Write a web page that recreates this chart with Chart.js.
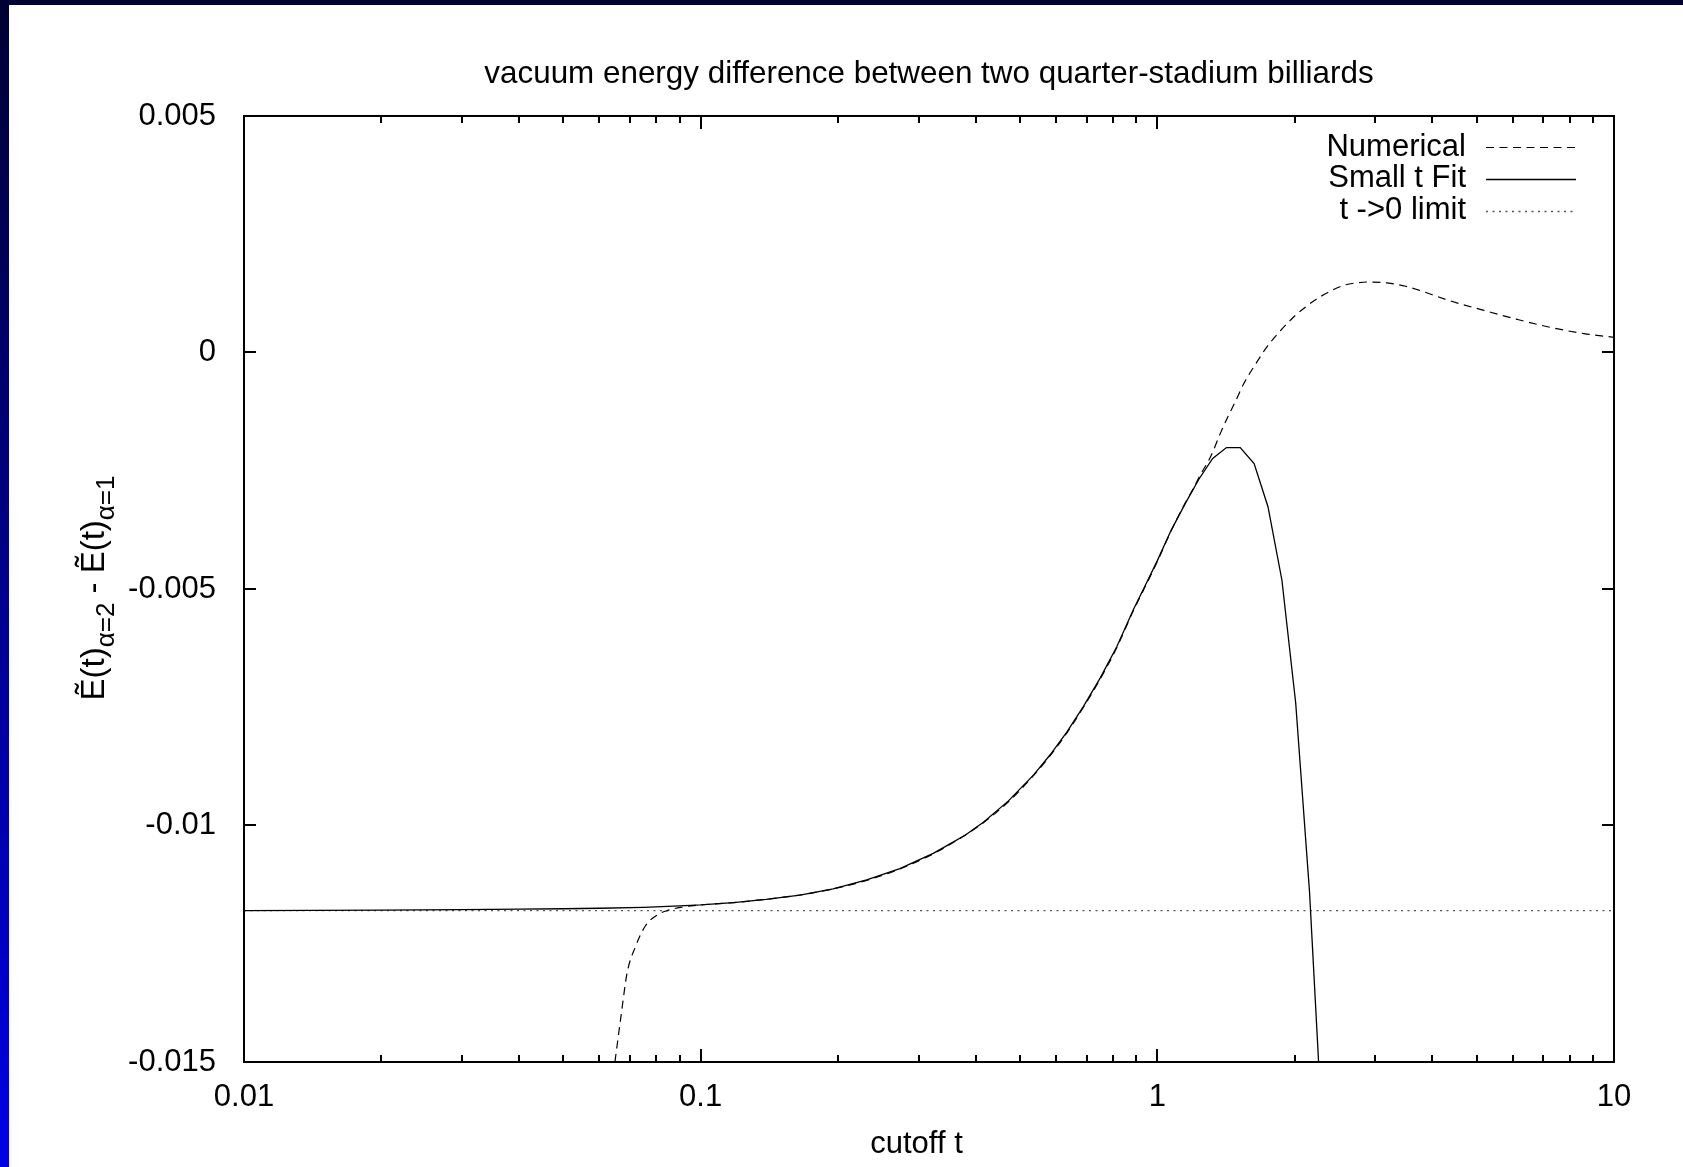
<!DOCTYPE html>
<html>
<head>
<meta charset="utf-8">
<title>vacuum energy difference</title>
<script src="https://cdn.jsdelivr.net/npm/chart.js@4.4.1/dist/chart.umd.min.js"></script>
<style>
  html, body { margin: 0; padding: 0; }
  body {
    width: 1683px; height: 1167px; overflow: hidden; position: relative;
    background: linear-gradient(to bottom, #000033, #0000e6);
  }
  #sheet { position: absolute; left: 9px; top: 5px; width: 1674px; height: 1162px; background: #fff; }
  canvas { display: block; }
</style>
</head>
<body>
<div id="sheet"><canvas id="chart" width="1674" height="1162"></canvas></div>
<script>
const chartTitle = "vacuum energy difference between two quarter-stadium billiards";
const xTitle = "cutoff t";
const seriesLabels = ["Numerical", "Small t Fit", "t ->0 limit"];

const xTickValues = [0.01, 0.1, 1, 10];
const yTickValues = [0.005, 0, -0.005, -0.01, -0.015];

// numerical result (dashed)
const numericalT = [0.0649, 0.0669, 0.069, 0.072, 0.0757, 0.0804, 0.0845, 0.0904, 0.1, 0.118, 0.139, 0.165,
  0.195, 0.231, 0.273, 0.323, 0.35, 0.38, 0.416, 0.472, 0.536, 0.582, 0.634, 0.689, 0.75, 0.815, 0.887, 0.935,
  1.0, 1.072, 1.15, 1.2, 1.24, 1.307, 1.374, 1.43, 1.48, 1.546, 1.64, 1.738, 1.86, 1.988, 2.13, 2.275,
  2.42, 2.559, 2.72, 2.88, 3.185, 3.5, 3.707, 4.0, 4.385, 5.187, 6.138, 7.261, 8.59, 10];
const numericalE = [-0.015, -0.01404, -0.01312, -0.01256, -0.01212, -0.01189, -0.0118, -0.01173, -0.01168,
  -0.01163, -0.01156, -0.01147, -0.01134, -0.01116, -0.01092, -0.0106, -0.01041, -0.0102, -0.00994,
  -0.0095, -0.00894, -0.00853, -0.00804, -0.0075, -0.0069, -0.00624, -0.00545, -0.005, -0.00442,
  -0.00377, -0.00319, -0.00287, -0.0026, -0.00221, -0.00171, -0.00134, -0.00105, -0.00066, -0.00025, 0.00012,
  0.00046, 0.00075, 0.00099, 0.00118, 0.00132, 0.00142, 0.00147, 0.00149, 0.00147, 0.0014, 0.00133,
  0.00122, 0.00109, 0.00089, 0.0007, 0.00053, 0.0004, 0.00032];

// small t fit (solid)
const fitT = [0.01, 0.02, 0.03, 0.04, 0.05, 0.06, 0.075, 0.09, 0.1, 0.118, 0.139, 0.165, 0.195, 0.231, 0.273,
  0.323, 0.35, 0.38, 0.416, 0.472, 0.536, 0.582, 0.634, 0.689, 0.75, 0.815, 0.887, 0.935, 1.0, 1.072, 1.15,
  1.233, 1.322, 1.417, 1.519, 1.629, 1.747, 1.874, 2.009, 2.154, 2.31];
const fitE = [-0.0118, -0.01179, -0.01178, -0.01177, -0.01176, -0.01175, -0.01173, -0.0117, -0.01168,
  -0.01163, -0.01156, -0.01147, -0.01134, -0.01115, -0.01091, -0.01059, -0.0104, -0.0102, -0.00993,
  -0.00948, -0.00893, -0.00851, -0.00802, -0.00748, -0.00688, -0.00622, -0.00543, -0.00498, -0.0044,
  -0.00376, -0.0032, -0.00268, -0.00224, -0.00201, -0.00201, -0.00235, -0.00326, -0.00481, -0.00741,
  -0.0114, -0.0169];

// t -> 0 limit (dotted)
const limitT = [0.01, 10];
const limitE = [-0.0118, -0.0118];

const FONT = '"Liberation Sans", Arial, sans-serif';
Chart.defaults.font.family = FONT;
Chart.defaults.font.size = 31;
Chart.defaults.color = "#000";

function points(xs, ys) {
  return xs.map((x, i) => ({ x, y: ys[i] }));
}

function xLabel(value) {
  const hit = xTickValues.find((t) => Math.abs(Math.log10(value) - Math.log10(t)) < 1e-6);
  return hit === undefined ? "" : String(hit);
}

function drawYLabel(ctx, cx, cy) {
  const parts = [["\u1EBC(t)", 33, 0], ["\u03B1=2", 26, 10], [" - ", 33, 0], ["\u1EBC(t)", 33, 0], ["\u03B1=1", 26, 10]];
  const widths = parts.map(([text, size]) => { ctx.font = `${size}px ${FONT}`; return ctx.measureText(text).width; });
  const total = widths.reduce((a, b) => a + b, 0);
  ctx.save();
  ctx.translate(cx, cy);
  ctx.rotate(-Math.PI / 2);
  ctx.textAlign = "left";
  ctx.textBaseline = "alphabetic";
  ctx.fillStyle = "#000";
  let pos = -total / 2;
  parts.forEach(([text, size, shift], i) => {
    ctx.font = `${size}px ${FONT}`;
    ctx.fillText(text, pos, shift);
    pos += widths[i];
  });
  ctx.restore();
}

const gnuplotFrame = {
  id: "gnuplotFrame",
  afterDatasetsDraw(chart) {
    const { ctx, chartArea: area, scales: { x, y } } = chart;
    ctx.save();
    ctx.strokeStyle = "#000";
    ctx.lineWidth = 2;
    ctx.setLineDash([]);
    ctx.beginPath();
    yTickValues.forEach((v) => {
      const py = Math.round(y.getPixelForValue(v));
      ctx.moveTo(area.left, py); ctx.lineTo(area.left + 12, py);
      ctx.moveTo(area.right, py); ctx.lineTo(area.right - 12, py);
    });
    xTickValues.forEach((v) => {
      const px = Math.round(x.getPixelForValue(v));
      ctx.moveTo(px, area.bottom); ctx.lineTo(px, area.bottom - 13);
      ctx.moveTo(px, area.top); ctx.lineTo(px, area.top + 13);
    });
    xTickValues.slice(0, -1).forEach((base) => {
      for (let m = 2; m <= 9; m++) {
        const px = Math.round(x.getPixelForValue(base * m));
        ctx.moveTo(px, area.bottom); ctx.lineTo(px, area.bottom - 7);
        ctx.moveTo(px, area.top); ctx.lineTo(px, area.top + 7);
      }
    });
    ctx.stroke();
    ctx.strokeRect(area.left, area.top, area.right - area.left, area.bottom - area.top);
    ctx.restore();
  },
  afterDraw(chart) {
    const { ctx, chartArea: area } = chart;
    // legend: text right-aligned, line sample to its right
    ctx.save();
    ctx.font = `31px ${FONT}`;
    ctx.fillStyle = "#000";
    ctx.textAlign = "right";
    ctx.textBaseline = "middle";
    chart.data.datasets.forEach((ds, i) => {
      const rowY = area.top + 31 + i * 31.8;
      ctx.fillText(ds.label, area.right - 148, rowY);
      ctx.beginPath();
      ctx.strokeStyle = ds.borderColor;
      ctx.lineWidth = ds.borderWidth;
      ctx.setLineDash(ds.borderDash || []);
      ctx.moveTo(area.right - 128, Math.round(rowY) + 0.5);
      ctx.lineTo(area.right - 38, Math.round(rowY) + 0.5);
      ctx.stroke();
    });
    ctx.setLineDash([]);
    ctx.textAlign = "center";
    ctx.fillText(xTitle, 907.5, 1139);
    ctx.restore();
    drawYLabel(ctx, 94.7, 583);
  }
};

new Chart(document.getElementById("chart"), {
  type: "line",
  data: {
    datasets: [
      { label: seriesLabels[0], data: points(numericalT, numericalE), borderColor: "#000", borderWidth: 1.2,
        borderDash: [8, 5.5], pointRadius: 0, cubicInterpolationMode: "monotone", fill: false },
      { label: seriesLabels[1], data: points(fitT, fitE), borderColor: "#000", borderWidth: 1.3,
        pointRadius: 0, tension: 0, fill: false },
      { label: seriesLabels[2], data: points(limitT, limitE), borderColor: "#555", borderWidth: 1.3,
        borderDash: [2, 4.5], pointRadius: 0, fill: false }
    ]
  },
  options: {
    responsive: false,
    animation: false,
    events: [],
    layout: { padding: { left: 0, top: 0, right: 69, bottom: 0 } },
    plugins: {
      legend: { display: false },
      tooltip: { enabled: false },
      title: {
        display: true, text: chartTitle, fullSize: false, color: "#000",
        font: { size: 31.4, weight: "normal" }, padding: { top: 50.2, bottom: 23.1 }
      }
    },
    scales: {
      x: {
        type: "logarithmic", min: 0.01, max: 10,
        grid: { display: false }, border: { display: false },
        ticks: { autoSkip: false, maxRotation: 0, padding: 9, color: "#000", callback: (value) => xLabel(value) },
        afterFit: (scale) => { scale.height = 105; }
      },
      y: {
        type: "linear", min: -0.015, max: 0.005,
        grid: { display: false }, border: { display: false },
        ticks: { stepSize: 0.005, padding: 20, color: "#000", callback: (value) => String(parseFloat(value.toFixed(4))) },
        afterFit: (scale) => { scale.width = 235; }
      }
    }
  },
  plugins: [gnuplotFrame]
});
</script>
</body>
</html>
